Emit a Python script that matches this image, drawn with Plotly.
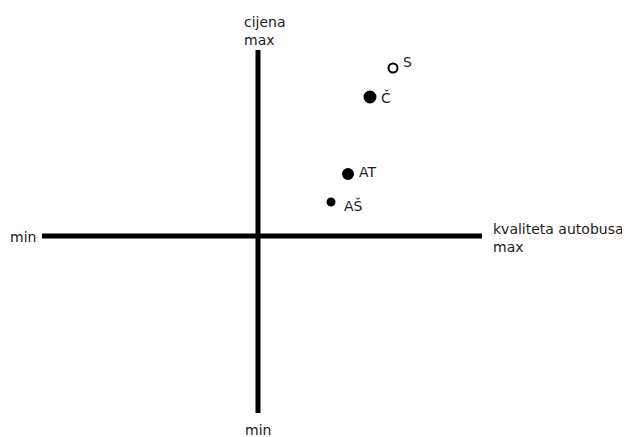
import plotly.graph_objects as go

# positioning map: quality of buses (x) vs price (y), origin at axis crossing
brands = ["S", "Č", "AT", "AŠ"]
quality = [135, 112, 90, 73]
price = [168, 139, 62, 34]
hollow = [True, False, False, False]

x_axis_ends = [-216, 224]
y_axis_ends = [-177, 186]

# styling only: marker sizes and label nudges (px)
marker_sizes = [9, 11, 10, 7]
label_nudge = {"S": (8, 6), "Č": (9, 0), "AT": (9, 2), "AŠ": (11, -3)}

font = dict(family="DejaVu Sans, sans-serif", size=14, color="#222")

fig = go.Figure()
fig.add_trace(go.Scatter(x=x_axis_ends, y=[0, 0], mode="lines",
                         line=dict(color="black", width=5), hoverinfo="skip"))
fig.add_trace(go.Scatter(x=[0, 0], y=y_axis_ends, mode="lines",
                         line=dict(color="black", width=5), hoverinfo="skip"))

fig.add_trace(go.Scatter(
    x=quality, y=price, mode="markers",
    marker=dict(
        size=marker_sizes, opacity=1,
        color=["white" if h else "black" for h in hollow],
        line=dict(color="black", width=2),
    ),
    hoverinfo="text", text=brands,
))

for b, x, y in zip(brands, quality, price):
    dx, dy = label_nudge[b]
    fig.add_annotation(x=x, y=y, text=b, showarrow=False, xanchor="left",
                       xshift=dx, yshift=dy, font=font)

# axis end labels
fig.add_annotation(x=x_axis_ends[0], y=0, text="min", showarrow=False,
                   xanchor="right", xshift=-4, yshift=-1, font=font)
fig.add_annotation(x=x_axis_ends[1], y=0, text="kvaliteta autobusa<br>max",
                   showarrow=False, xanchor="left", xshift=9, yshift=-2,
                   align="left", font=font)
fig.add_annotation(x=0, y=y_axis_ends[1], text="cijena<br>max", showarrow=False,
                   xanchor="left", yanchor="bottom", xshift=-16, yshift=0,
                   align="left", font=font)
fig.add_annotation(x=0, y=y_axis_ends[0], text="min", showarrow=False,
                   yanchor="top", yshift=-7, font=font)

# page has an 8px body margin, so the figure is 622x429 at offset (8, 8)
fig.update_layout(
    width=622, height=429,
    margin=dict(l=0, r=0, t=0, b=0),
    paper_bgcolor="white", plot_bgcolor="white",
    showlegend=False,
    xaxis=dict(range=[-250, 372], visible=False, fixedrange=True),
    yaxis=dict(range=[-201, 228], visible=False, fixedrange=True),
)

fig.write_html("out.html")
